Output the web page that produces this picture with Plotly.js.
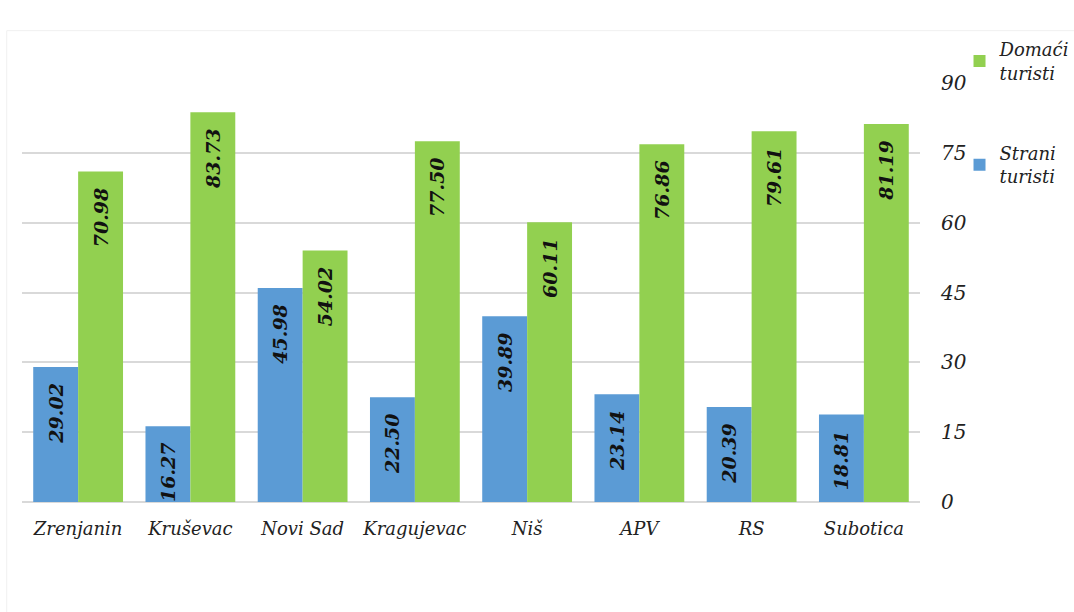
<!DOCTYPE html>
<html>
<head>
<meta charset="utf-8">
<script src="https://cdn.plot.ly/plotly-3.0.1.min.js"></script>
<style>html,body{margin:0;padding:0;background:#fff;}#chart{width:1074px;height:612px;}</style>
</head>
<body>
<div id="chart"></div>
<script>
const categories = ["Zrenjanin", "Kruševac", "Novi Sad", "Kragujevac", "Niš", "APV", "RS", "Subotica"];
const straniTuristi = [29.02, 16.27, 45.98, 22.50, 39.89, 23.14, 20.39, 18.81];
const domaciTuristi = [70.98, 83.73, 54.02, 77.50, 60.11, 76.86, 79.61, 81.19];
const yTicks = [0, 15, 30, 45, 60, 75, 90];

const FONT = "DejaVu Serif, Liberation Serif, serif";
const pad = "\u00A0\u00A0";

const labelFont = {family: FONT, size: 19, color: "#111", weight: "bold", style: "italic"};

const traces = [
  {
    type: "bar", name: "Strani<br>turisti", x: categories, y: straniTuristi,
    marker: {color: "#5B9BD5"}, legendgroup: "s", legendrank: 2,
    text: straniTuristi.map(v => v.toFixed(2) + pad), textposition: "inside",
    insidetextanchor: "end", textangle: -90, textfont: labelFont,
    constraintext: "none", hoverinfo: "skip"
  },
  {
    type: "bar", name: "Domaći<br>turisti", x: categories, y: domaciTuristi,
    marker: {color: "#92D050"}, legendgroup: "d", legendrank: 1,
    text: domaciTuristi.map(v => v.toFixed(2) + pad), textposition: "inside",
    insidetextanchor: "end", textangle: -90, textfont: labelFont,
    constraintext: "none", hoverinfo: "skip"
  }
];

const layout = {
  width: 1074, height: 612,
  margin: {l: 22, r: 154, t: 83, b: 110, autoexpand: false},
  paper_bgcolor: "#fff", plot_bgcolor: "#fff",
  barmode: "group", bargap: 0.2, bargroupgap: 0,
  showlegend: true,
  legend: {
    x: 1.044, xanchor: "left", y: 1.124, yanchor: "top",
    traceorder: "grouped", tracegroupgap: 54,
    font: {family: FONT, size: 18, color: "#222", style: "italic"},
    itemwidth: 30, bgcolor: "rgba(0,0,0,0)"
  },
  xaxis: {
    type: "category", showgrid: false, zeroline: false, showline: false,
    ticks: "", ticklabelstandoff: 14,
    tickfont: {family: FONT, size: 18, color: "#222", style: "italic"}
  },
  yaxis: {
    side: "right", range: [0, 90], tickvals: yTicks, ticktext: yTicks.map(String),
    showgrid: true, gridcolor: "#d9d9d9", gridwidth: 2,
    zeroline: true, zerolinecolor: "#d9d9d9", zerolinewidth: 2,
    showline: false, ticks: "", ticklabelstandoff: 20,
    tickfont: {family: FONT, size: 20, color: "#222", style: "italic"}
  },
  shapes: [
    {type: "rect", xref: "paper", yref: "paper", x0: -0.017, x1: 1.3, y0: -0.3, y1: 1.125,
     line: {color: "#f0f0f0", width: 1}, fillcolor: "rgba(0,0,0,0)", layer: "below"}
  ]
};

Plotly.newPlot("chart", traces, layout, {displayModeBar: false, staticPlot: true});
</script>
</body>
</html>
